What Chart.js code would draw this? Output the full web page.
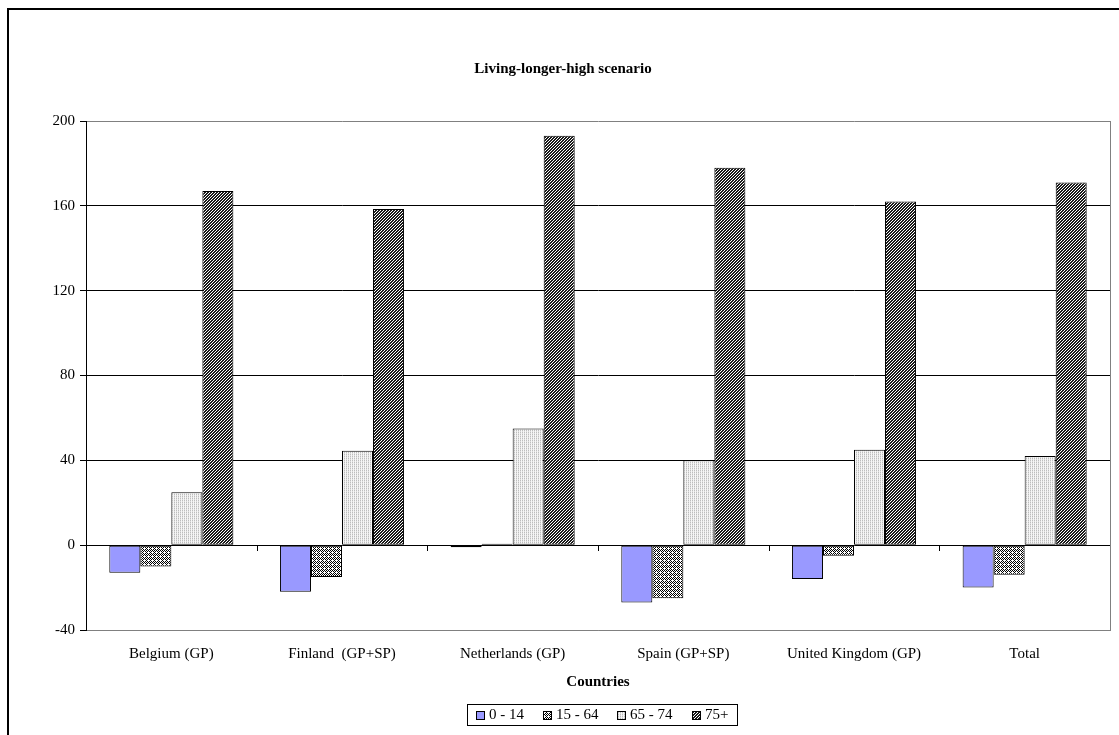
<!DOCTYPE html>
<html>
<head>
<meta charset="utf-8">
<script src="https://cdn.jsdelivr.net/npm/chart.js@4.4.1/dist/chart.umd.min.js"></script>
<style>
  html, body { margin: 0; padding: 0; background: #ffffff; }
  #wrap { width: 1119px; height: 735px; position: relative; }
</style>
</head>
<body>
<div id="wrap"><canvas id="chart" width="1119" height="735"></canvas></div>
<script>
// Countries (x categories)
const categories = ['Belgium (GP)', 'Finland  (GP+SP)', 'Netherlands (GP)', 'Spain (GP+SP)', 'United Kingdom (GP)', 'Total'];
// Age groups (series names)
const seriesLabels = ['0 - 14', '15 - 64', '65 - 74', '75+'];
// Percentage change per age group
const age0to14 = [-13, -22, -1, -27, -16, -20];
const age15to64 = [-10, -15, 0.7, -25, -5, -14];
const age65to74 = [25, 44.5, 55, 40, 45, 42];
const age75plus = [167, 158.5, 193, 178, 162, 171];
// Value axis ticks
const yTicks = [-40, 0, 40, 80, 120, 160, 200];

const chartTitle = 'Living-longer-high scenario';
const xAxisTitle = 'Countries';
const FONT = '"Liberation Serif", "Times New Roman", serif';
const FONT_SIZE = 15;

// Small repeating fills for the hatched series
function makePattern(size, painter) {
  const c = document.createElement('canvas');
  c.width = size; c.height = size;
  const g = c.getContext('2d');
  painter(g, size);
  return g.createPattern(c, 'repeat');
}
const fillSolid = '#9999ff';
const fillDots = makePattern(4, (g, s) => {
  g.fillStyle = '#ffffff'; g.fillRect(0, 0, s, s);
  g.fillStyle = '#000000';
  for (let y = 0; y < s; y++) for (let x = 0; x < s; x++) {
    if ((x + y) % 2 === 0 && !(x % 4 === 0 && y % 4 === 0)) g.fillRect(x, y, 1, 1);
  }
});
const fillLight = makePattern(4, (g, s) => {
  g.fillStyle = '#f6f6f6'; g.fillRect(0, 0, s, s);
  for (let y = 0; y < s; y++) for (let x = 0; x < s; x++) {
    if (x % 2 === 0) { g.fillStyle = (y % 2 === 0) ? '#bdbdbd' : '#dedede'; g.fillRect(x, y, 1, 1); }
  }
});
const fillDiag = makePattern(3, (g, s) => {
  g.fillStyle = '#ffffff'; g.fillRect(0, 0, s, s);
  g.fillStyle = '#1a1a1a';
  for (let y = 0; y < s; y++) for (let x = 0; x < s; x++) {
    if ((x + y) % 3 !== 2) g.fillRect(x, y, 1, 1);
  }
});
const seriesFills = [fillSolid, fillDots, fillLight, fillDiag];
const seriesValues = [age0to14, age15to64, age65to74, age75plus];

const datasets = seriesLabels.map((label, i) => ({
  label,
  data: seriesValues[i],
  backgroundColor: seriesFills[i],
  borderColor: '#000000',
  borderWidth: 1,
  borderSkipped: false,
  categoryPercentage: 0.727,
  barPercentage: 1.0
}));

// Frame, title, right border, zero-line category ticks and legend
const decorations = {
  id: 'decorations',
  afterDatasetsDraw(chart) {
    const { ctx, chartArea, scales } = chart;
    const x = scales.x, y = scales.y;
    ctx.save();
    // right border of the plot area
    ctx.strokeStyle = '#808080';
    ctx.lineWidth = 1;
    ctx.beginPath();
    ctx.moveTo(Math.round(chartArea.right) + 0.5, chartArea.top);
    ctx.lineTo(Math.round(chartArea.right) + 0.5, chartArea.bottom + 0.5);
    ctx.stroke();
    // category boundary ticks hanging from the zero line
    const y0 = Math.round(y.getPixelForValue(0));
    ctx.strokeStyle = '#000000';
    ctx.beginPath();
    for (let i = 0; i < categories.length - 1; i++) {
      const bx = Math.round((x.getPixelForValue(i) + x.getPixelForValue(i + 1)) / 2) + 0.5;
      ctx.moveTo(bx, y0);
      ctx.lineTo(bx, y0 + 6);
    }
    ctx.stroke();
    ctx.restore();
  },
  afterDraw(chart) {
    const { ctx } = chart;
    ctx.save();
    // outer chart frame
    ctx.fillStyle = '#000000';
    ctx.fillRect(7, 8, 2, 735);
    ctx.fillRect(7, 8, 1119, 2);
    // title
    ctx.font = 'bold ' + FONT_SIZE + 'px ' + FONT;
    ctx.textAlign = 'center';
    ctx.textBaseline = 'middle';
    ctx.fillText(chartTitle, 563, 69);
    // legend
    ctx.font = FONT_SIZE + 'px ' + FONT;
    const box = 9, gapBoxText = 4, gapItems = 19, margin = 9;
    const widths = seriesLabels.map(t => ctx.measureText(t).width);
    let content = 0;
    widths.forEach((w, i) => { content += box + gapBoxText + w + (i < widths.length - 1 ? gapItems : 0); });
    const frameW = Math.round(content + margin * 2);
    const frameX = Math.round(602 - frameW / 2);
    const frameY = 704, frameH = 21;
    ctx.strokeStyle = '#000000';
    ctx.lineWidth = 1;
    ctx.strokeRect(frameX + 0.5, frameY + 0.5, frameW, frameH);
    let cx = frameX + margin;
    const cy = frameY + frameH / 2 + 0.5;
    ctx.textAlign = 'left';
    ctx.textBaseline = 'middle';
    seriesLabels.forEach((t, i) => {
      const bx = Math.round(cx), by = Math.round(cy - box / 2);
      ctx.fillStyle = seriesFills[i];
      ctx.fillRect(bx, by, box, box);
      ctx.strokeStyle = '#000000';
      ctx.strokeRect(bx + 0.5, by + 0.5, box - 1, box - 1);
      ctx.fillStyle = '#000000';
      ctx.fillText(t, bx + box + gapBoxText, cy);
      cx += box + gapBoxText + widths[i] + gapItems;
    });
    ctx.restore();
  }
};

new Chart(document.getElementById('chart'), {
  type: 'bar',
  data: { labels: categories, datasets },
  options: {
    responsive: false,
    animation: false,
    layout: { padding: { left: 0, right: 9, top: 121, bottom: 40 } },
    plugins: {
      legend: { display: false },
      title: { display: false },
      tooltip: { enabled: false }
    },
    scales: {
      x: {
        type: 'category',
        offset: true,
        grid: { display: false, drawTicks: false },
        border: { display: true, color: '#808080', width: 1 },
        ticks: { color: '#000000', font: { family: FONT, size: FONT_SIZE }, padding: 15, maxRotation: 0, autoSkip: false },
        title: { display: true, text: xAxisTitle, color: '#000000', font: { family: FONT, size: FONT_SIZE, weight: 'bold' }, padding: { top: 4, bottom: 4 } },
        afterFit(scale) { scale.height = 65; }
      },
      y: {
        min: yTicks[0],
        max: yTicks[yTicks.length - 1],
        afterBuildTicks(scale) { scale.ticks = yTicks.map(v => ({ value: v })); },
        grid: {
          color: ctx => (ctx.tick && (ctx.tick.value === 200 || ctx.tick.value === -40)) ? '#808080' : '#000000',
          tickColor: '#000000',
          tickLength: 6,
          lineWidth: 1
        },
        border: { display: true, color: '#000000', width: 1 },
        ticks: { color: '#000000', font: { family: FONT, size: FONT_SIZE }, padding: 5 },
        afterFit(scale) { scale.width = 86; }
      }
    }
  },
  plugins: [decorations]
});
</script>
</body>
</html>
